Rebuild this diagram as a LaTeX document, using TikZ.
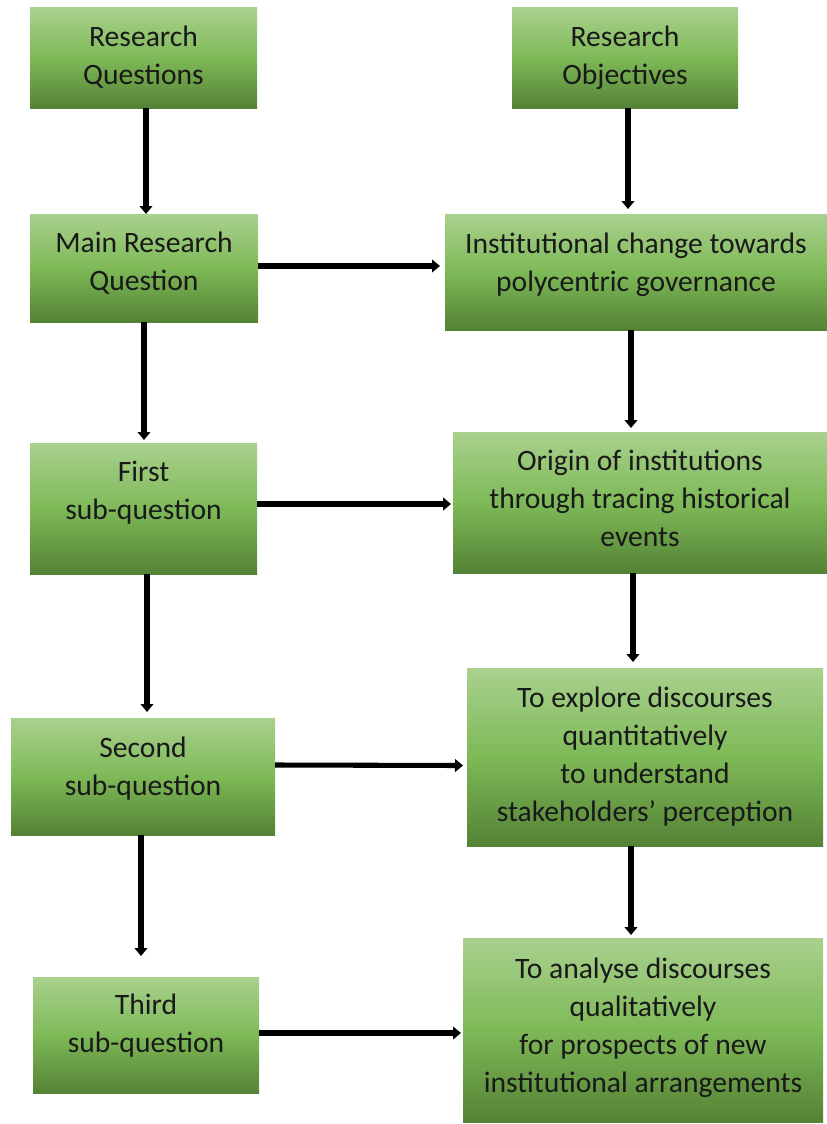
\documentclass[tikz,border=0pt]{standalone}
\usepackage{fontspec}
\setmainfont{Carlito}
\usetikzlibrary{arrows.meta,calc}
\definecolor{gtop}{HTML}{A9D18E}
\definecolor{gmid}{HTML}{7EB957}
\definecolor{gbot}{HTML}{548235}
% centred lines; the optional argument lifts them within the box
\newcommand\boxlines[2][2pt]{\raisebox{#1}[\height][\depth]{%
  \begin{tabular}{@{}c@{}}#2\end{tabular}}}
\tikzset{
  box/.style={inner sep=0pt, outer sep=0pt, anchor=north west,
    top color=gtop, bottom color=gbot, middle color=gmid, text=black!90,
    font=\fontsize{22.2pt}{28.5pt}\selectfont},
  arr/.style={line width=3.8pt, -{Triangle[length=6pt,width=9.5pt]}, black}
}
\begin{document}
\begin{tikzpicture}[x=0.75pt,y=-0.75pt]
\useasboundingbox (0,0) rectangle (827,1124);

% left column: questions
\node[box, minimum width=170.25pt, minimum height=75pt] (rq) at (30,8)
  {\boxlines[-0.25pt]{Research\\Questions}};
\node[box, minimum width=171pt, minimum height=81pt] (mrq) at (30,214)
  {\boxlines[2.75pt]{Main Research\\Question}};
\node[box, minimum width=170.25pt, minimum height=98.25pt] (fsq) at (30,443)
  {\boxlines[11.75pt]{First\\sub-question}};
\node[box, minimum width=198pt, minimum height=87.75pt] (ssq) at (11,718)
  {\boxlines[5.75pt]{Second\\sub-question}};
\node[box, minimum width=169.5pt, minimum height=87pt] (tsq) at (33,977)
  {\boxlines[6.5pt]{Third\\sub-question}};

% right column: objectives
\node[box, minimum width=169.5pt, minimum height=75pt] (ro) at (512,8)
  {\boxlines[-0.25pt]{Research\\Objectives}};
\node[box, minimum width=286.5pt, minimum height=87pt] (ic) at (445,214)
  {\boxlines[5pt]{Institutional change towards\\polycentric governance}};
\node[box, minimum width=280.5pt, minimum height=105.75pt] (orig) at (453,432)
  {\boxlines[1.25pt]{Origin of institutions\\through tracing historical\\events}};
\node[box, minimum width=267pt, minimum height=133.5pt] (expl) at (467,668)
  {\boxlines[-0.25pt]{To explore discourses\\quantitatively\\to understand\\stakeholders’ perception}};
\node[box, minimum width=270pt, minimum height=138pt] (anal) at (463,938)
  {\boxlines[1.25pt]{To analyse discourses\\qualitatively\\for prospects of new\\institutional arrangements}};

% vertical connectors
\draw[arr] ($(rq.south)+(2.5,0)$) -- ($(mrq.north)+(2,0)$);
\draw[arr] ($(ro.south)+(3,0)$) -- ($(ic.north)+(-8,-5)$);
\draw[arr] ($(mrq.south)+(0,0)$) -- ($(fsq.north)+(0.5,-3)$);
\draw[arr] ($(ic.south)+(-5,0)$) -- ($(orig.north)+(-9,-4)$);
\draw[arr] ($(fsq.south)+(3.5,0)$) -- ($(ssq.north)+(4,-6)$);
\draw[arr] ($(orig.south)+(-7,0)$) -- ($(expl.north)+(-12,-6)$);
\draw[arr] ($(ssq.south)+(-2,0)$) -- ($(tsq.north)+(-5,-21)$);
\draw[arr] ($(expl.south)+(-14,0)$) -- ($(anal.north)+(-12,-3)$);

% horizontal connectors
\draw[arr] ($(mrq.east)+(0,-2)$) -- ($(ic.west)+(-5,-6)$);
\draw[arr] ($(fsq.east)+(0,-4.5)$) -- ($(orig.west)+(-2,1.5)$);
\draw[arr] ($(ssq.east)+(0,-11.5)$) -- ($(expl.west)+(-4,8.5)$);
\draw[arr] ($(tsq.east)+(0,-2)$) -- ($(anal.west)+(-2,3)$);
\end{tikzpicture}
\end{document}
